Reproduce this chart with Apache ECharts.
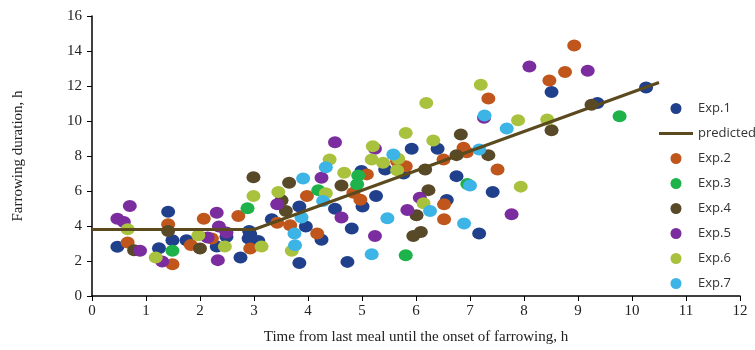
<!DOCTYPE html>
<html>
<head>
<meta charset="utf-8">
<script src="https://cdn.jsdelivr.net/npm/echarts@6/dist/echarts.min.js"></script>
<style>
  html, body { margin: 0; padding: 0; background: #fff; }
  #main { width: 755px; height: 350px; }
</style>
</head>
<body>
<div id="main"></div>
<script>
// [time from last meal, farrowing duration]
const exp1 = [[0.47,2.81],[1.41,4.82],[1.49,3.19],[1.24,2.73],[1.75,3.19],[2.49,3.38],[2.31,2.83],[2.91,3.72],
  [2.90,3.28],[2.75,2.20],[3.08,3.15],[2.93,3.53],[3.33,4.38],[3.84,5.11],[3.96,3.97],[3.84,1.88],[4.25,3.21],
  [4.50,4.99],[4.81,3.86],[4.73,1.95],[4.99,7.14],[5.01,5.11],[5.26,5.71],[5.43,7.23],[5.77,7.00],[5.92,8.41],
  [6.40,8.41],[6.75,6.85],[7.42,5.94],[6.57,5.49],[7.17,3.57],[8.51,11.66],[10.26,11.92],[9.36,11.03]];
const exp2 = [[0.66,3.06],[1.41,4.10],[1.49,1.82],[1.83,2.92],[2.22,3.28],[2.07,4.42],[2.71,4.57],[2.93,2.71],
  [3.43,4.19],[3.67,4.04],[3.98,5.71],[4.17,3.57],[4.84,5.90],[4.97,5.50],[5.09,6.95],[5.65,7.70],[5.81,7.42],
  [6.88,8.47],[6.94,8.22],[6.51,7.80],[7.34,11.28],[7.51,7.23],[6.52,5.24],[6.52,4.38],[8.47,12.32],
  [8.93,14.31],[8.76,12.80]];
const exp3 = [[1.49,2.58],[2.88,5.01],[4.19,6.05],[4.93,6.89],[4.91,6.38],[5.81,2.33],[6.95,6.40],[9.77,10.27]];
const exp4 = [[0.78,2.62],[1.41,3.72],[2.00,2.71],[2.99,6.79],[3.65,6.47],[3.51,5.47],[3.59,4.86],[4.62,6.32],
  [6.83,9.23],[6.75,8.05],[7.34,8.05],[6.17,7.23],[6.23,6.05],[6.01,4.61],[5.95,3.43],[6.09,3.66],[8.51,9.47],
  [9.25,10.93]];
const exp5 = [[0.70,5.14],[0.47,4.42],[0.59,4.23],[0.89,2.58],[1.30,1.97],[2.14,3.34],[2.31,4.76],[2.35,3.97],
  [2.49,3.63],[2.33,2.05],[3.43,5.24],[4.25,6.76],[4.50,8.79],[4.62,4.48],[5.24,3.43],[5.84,4.92],[5.24,8.41],
  [7.26,10.18],[6.07,5.62],[7.77,4.67],[8.10,13.12],[9.18,12.87]];
const exp6 = [[0.66,3.82],[1.18,2.20],[1.97,3.47],[2.46,2.83],[2.99,5.71],[3.14,2.83],[3.45,5.94],[3.70,2.58],
  [4.40,7.80],[4.33,5.87],[4.67,7.04],[5.20,8.56],[5.18,7.80],[5.39,7.61],[5.65,7.19],[5.81,9.32],[5.67,7.84],
  [6.19,11.03],[6.32,8.88],[7.20,12.07],[7.89,10.04],[8.43,10.08],[7.94,6.25],[6.14,5.30]];
const exp7 = [[3.91,6.72],[3.88,4.48],[3.75,3.57],[3.76,2.90],[4.33,7.36],[4.28,5.43],[5.18,2.39],[5.47,4.44],
  [5.58,8.09],[7.27,10.31],[7.68,9.57],[7.17,8.37],[7.00,6.32],[6.26,4.86],[6.89,4.14]];
// broken-line model
const predicted = [[0,3.8],[3,3.8],[10.5,12.2]];

const serif = '"Liberation Serif", "Times New Roman", serif';
// thin bar for the legend; the zero-length moves keep the full box height
const lineIcon = 'path://M0,0L0,0M0,4L34,4L34,7L0,7ZM0,11L0,11';

const chart = echarts.init(document.getElementById('main'));

const dots = (name, data, color) => ({
  name: name,
  type: 'scatter',
  data: data,
  symbol: 'circle',
  symbolSize: [14, 12],
  itemStyle: { color: color, opacity: 1 }
});

chart.setOption({
  animation: false,
  grid: { left: 92, right: 15, top: 16, bottom: 53 },
  legend: {
    orient: 'vertical',
    left: 654,
    top: 97,
    itemWidth: 34,
    itemHeight: 11,
    itemGap: 12,
    textStyle: { fontFamily: '"Open Sans", sans-serif', fontSize: 13, color: '#333' },
    data: [
      { name: 'Exp.1', icon: 'circle' },
      { name: 'predicted', icon: lineIcon },
      { name: 'Exp.2', icon: 'circle' },
      { name: 'Exp.3', icon: 'circle' },
      { name: 'Exp.4', icon: 'circle' },
      { name: 'Exp.5', icon: 'circle' },
      { name: 'Exp.6', icon: 'circle' },
      { name: 'Exp.7', icon: 'circle' }
    ]
  },
  xAxis: {
    type: 'value',
    min: 0, max: 12, interval: 1,
    name: 'Time from last meal until the onset of farrowing, h',
    nameLocation: 'middle',
    nameGap: 34,
    nameTextStyle: { fontFamily: serif, fontSize: 15, color: '#222' },
    axisLine: { lineStyle: { color: '#000', width: 1.5 } },
    axisTick: { length: 5, lineStyle: { color: '#000' } },
    axisLabel: { fontFamily: serif, fontSize: 15, color: '#222' },
    splitLine: { show: false }
  },
  yAxis: {
    type: 'value',
    min: 0, max: 16, interval: 2,
    name: 'Farrowing duration, h',
    nameLocation: 'middle',
    nameGap: 66,
    nameTextStyle: { fontFamily: serif, fontSize: 15, color: '#222' },
    axisLine: { show: true, lineStyle: { color: '#000', width: 1.5 } },
    axisTick: { show: true, length: 5, lineStyle: { color: '#000' } },
    axisLabel: { fontFamily: serif, fontSize: 15, color: '#222', margin: 10 },
    splitLine: { show: false }
  },
  series: [
    dots('Exp.1', exp1, '#21408c'),
    {
      name: 'predicted',
      type: 'line',
      data: predicted,
      symbol: 'none',
      z: 3,
      itemStyle: { color: '#5a4a1e' },
      lineStyle: { color: '#5a4a1e', width: 3 }
    },
    dots('Exp.2', exp2, '#c0561c'),
    dots('Exp.3', exp3, '#1db34a'),
    dots('Exp.4', exp4, '#584a28'),
    dots('Exp.5', exp5, '#7b2c9e'),
    dots('Exp.6', exp6, '#a9c23e'),
    dots('Exp.7', exp7, '#3cb4e6')
  ]
});
</script>
</body>
</html>
